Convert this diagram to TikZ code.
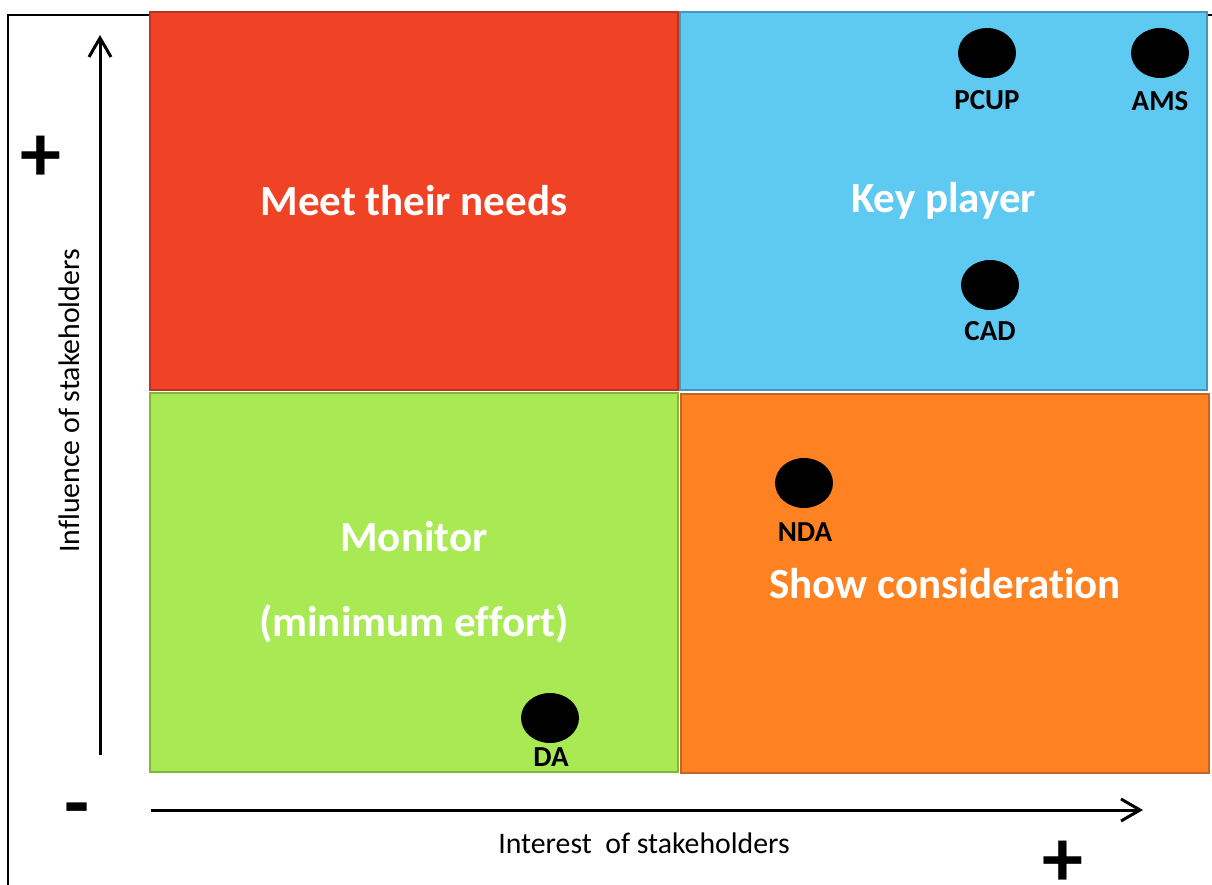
\documentclass[tikz,border=0pt]{standalone}
\usepackage{fontspec}
\setmainfont{Carlito}[Ligatures={NoCommon}]
\usetikzlibrary{arrows.meta,shapes.geometric}
\definecolor{qred}{RGB}{240,66,36}
\definecolor{qredb}{RGB}{185,52,30}
\definecolor{qblue}{RGB}{94,202,242}
\definecolor{qblueb}{RGB}{70,150,190}
\definecolor{qgreen}{RGB}{169,233,84}
\definecolor{qgreenb}{RGB}{128,182,62}
\definecolor{qorange}{RGB}{254,130,33}
\definecolor{qorangeb}{RGB}{200,100,35}
\tikzset{
  quad/.style={rectangle, inner sep=0pt, line width=2pt, text=white, font=\fontsize{43}{85}\selectfont\bfseries, align=center},
  dot/.style={ellipse, fill=black, inner sep=0pt, minimum width=58pt, minimum height=50pt},
  dotlabel/.style={font=\fontsize{29}{32}\selectfont\bfseries, inner sep=0pt},
  axislabel/.style={font=\fontsize{29.8}{32}\selectfont, inner sep=0pt},
  sign/.style={font=\fontsize{82}{90}\selectfont\bfseries, inner sep=0pt, text depth=0pt},
  axisarrow/.style={line width=3pt, -{Straight Barb[length=19pt,width=22pt,line width=3pt]}}
}
\begin{document}
\begin{tikzpicture}[x=1pt,y=-1pt]
\useasboundingbox (0,0) rectangle (1212,885);
% frame
\draw[line width=2pt] (8,890) -- (8,15) -- (1215,15);
% quadrants
\node[quad, fill=qred, draw=qredb, minimum width=528pt, minimum height=378pt] (red) at (414,201) {Meet their needs};
\node[quad, fill=qblue, draw=qblueb, minimum width=527pt, minimum height=378pt] (blue) at (943.5,201) {Key player};
\node[quad, fill=qgreen, draw=qgreenb, minimum width=528pt, minimum height=379pt] (green) at (414,582.5) {Monitor\\(minimum effort)};
\node[quad, fill=qorange, draw=qorangeb, minimum width=528pt, minimum height=379pt] (orange) at (945,583.5) {Show consideration};
% axes
\coordinate (ybot) at (100,755);
\coordinate (ytop) at (100,35);
\coordinate (xl) at (151,810);
\coordinate (xr) at (1143,810);
\draw[axisarrow] (ybot) -- (ytop);
\draw[axisarrow] (xl) -- (xr);
\node[axislabel, rotate=90] (ylab) at (69,401) {Influence of stakeholders};
\node[axislabel] (xlab) at (644,843) {Interest\ \ of stakeholders};
% signs
\node[sign] (plusy) at (41,159) {+};
\node[sign] (minus) at (77,817) {-};
\node[sign] (plusx) at (1063,864) {+};
% stakeholders
\node[dot] (pcup) at (987,53) {};
\node[dotlabel] (pcupl) at (987,100) {PCUP};
\node[dot] (ams) at (1160,53) {};
\node[dotlabel] (amsl) at (1160,101) {AMS};
\node[dot] (cad) at (990,285) {};
\node[dotlabel] (cadl) at (990,331) {CAD};
\node[dot] (nda) at (804,483) {};
\node[dotlabel] (ndal) at (805,532) {NDA};
\node[dot] (da) at (550,718) {};
\node[dotlabel] (dal) at (551,757) {DA};
\end{tikzpicture}
\end{document}
